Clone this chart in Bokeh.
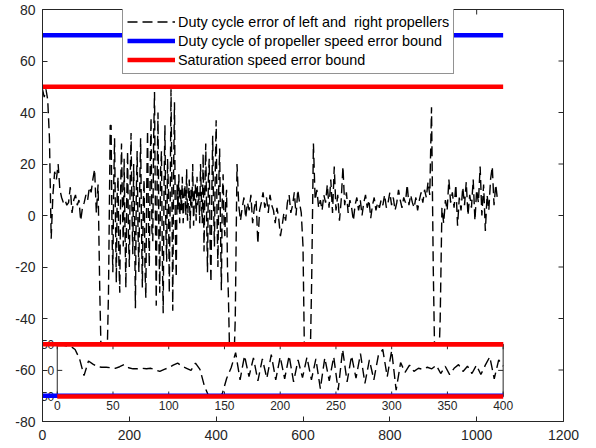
import numpy as np
from bokeh.plotting import figure
from bokeh.models import Range1d, FixedTicker, Legend, LegendItem
from bokeh.core.properties import value
from bokeh.embed import file_html
from bokeh.resources import INLINE

# ---------------- data ----------------
# main error signal, in three sampled pieces: (start, step, values)
seg_a_start, seg_a_step = 0, 4
seg_a_y = [
    49, 46, 49, 45, 30, -9, 8, 17, 14, 20,
    10, 7, 5, 6, 4, 5, 11, 1, 6, 8,
    4, 6, -2, 3, 5, 8, 6, 11, 9, 14,
    18, 1, 12, -30, -62, -62, -62, -62, -30, 35,
]
seg_b_start, seg_b_step = 158, 2
seg_b_y = [
    35, -5, -22, 12, 30, 0, -26, 8, 15, -18, -30, 10, 28, 5, -12, 22, -5, -28, 6, 25, -8,
    -20, 14, 32, 2, -15, 20, -2, -36, 8, 25, -6, -22, 12, 30, -4, -28, 4, 14, -20, -32, 10,
    33, -2, -20, 18, 38, -6, -10, 30, 48, 2, -35, 14, 40, -8, -30, 18, 25, -16, -38, 12, 35,
    -4, -18, 22, 10, -30, 4, 49, 10, -37, 18, 44, -6, -24, 12, 2, 16, -3,
    10, 2, 15, -3, 8, 12, 0, 18, -2, 6, 14, -5, 10, 3, 20, -4, 8, 12, -2, 15, 4, 9, -3, 20, 6, -3, 24,
    -14, 10, 28, 0, -22, 14, 22, -10, -26, 8, 31, 4, -12, 18, 37, 0, -20, 12, 26, -5, -29, 6, 16, -2, -8, 5, 10, -20,
]
seg_c_start, seg_c_step = 428, 4
seg_c_y = [
    -30, -62, -62,
    -62, -40, 20, 4, -2, 3, 7, -1, 5, 2,
    8, -3, 3, 6, -11, 2, 5, 9, 3, 7,
    1, 8, 4, 2, -3, 3, -1, -8, -4, 1,
    -2, 5, 8, 1, 4, 9, 0, 10, 5, 1,
    -12, -62, -62, -62, -62, -25, 28, 6, 10, 3,
    6, 2, 8, 5, 12, 3, 14, 1, 19, 2,
    8, -2, 6, 19, 4, 9, 1, 6, 3, -2,
    4, 7, 2, 6, 0, 5, 8, 3, 6, -1,
    4, 7, 2, 5, 3, 6, 4, 8, 3, 5,
    9, 4, 7, 2, 5, 10, 6, 3, 7, 5,
    12, 4, 8, 5, 3, 7, 2, 6, 9, 5,
    10, 7, 13, 8, 42, -20, -62, -62, -62, -40,
    3, -3, 6, 2, 14, 5, 9, 3, 12, -4,
    7, 2, 11, 4, 13, 0, 8, 3, 14, -2,
    10, 5, 19, 0, 12, -6, 8, 2, 14, 19,
    4, 12, 6,
]

inset_step = 4
inset_y = [
    50, 49, 47, 46, 40, 22, -10, 18, 12, 7,
    6, 6, 5, 4, 7, 11, 5, 3, 3, 4,
    3, 4, 1, -2, 2, 5, 10, 14, 8, 4,
    0, 14, 2, -30, -50, -50, -50, -45, -15, 5,
    34, -18, 28, -12, 24, -20, 22, -15, 30, -18,
    26, -16, 28, -22, 20, -14, 25, -18, 22, -35,
    24, -20, 26, -38, 40, -22, 28, -15, 32, -25,
    20, -18, 28, 40, -12, 38, -38, 15, -4, 10,
    -2, 4, 2, 6, 3, 10, -6, 8, -8, 4,
    11, -2, 8, -6, 10, -8, 10, 26, -16, 20,
    8,
]

bound_x = [0, 1061]
sat_bound = 50
duty_bound = 70

x_ticks = [0, 200, 400, 600, 800, 1000, 1200]
y_ticks = [-80, -60, -40, -20, 0, 20, 40, 60, 80]
inset_x_ticks = [0, 50, 100, 150, 200, 250, 300, 350, 400]
inset_y_ticks = [-50, 0, 50]

legend_labels = [
    "Duty cycle error of left and  right propellers",
    "Duty cycle of propeller speed error bound",
    "Saturation speed error bound",
]

# ---------------- layout / style ----------------
W, H = 596, 448
BL, BR, BT, BB = 42, 33, 9, 27
FW, FH = W - BL - BR, H - BT - BB
FONT = "Liberation Sans"
AX_COL = "#262626"
DASH = "10 5"
LW = 1.4
BOUND_W = 4.5
TL = 5  # tick length, px

xr = (x_ticks[0], x_ticks[-1])
yr = (y_ticks[0], y_ticks[-1])

p = figure(width=W, height=H, x_range=Range1d(*xr), y_range=Range1d(*yr),
           output_backend="svg", toolbar_location=None,
           min_border_left=BL, min_border_right=BR, min_border_top=BT, min_border_bottom=BB)
p.background_fill_color = "white"
p.border_fill_color = "white"
p.outline_line_color = AX_COL
p.outline_line_width = 1
p.xgrid.visible = False
p.ygrid.visible = False


def style_axis(ax, ticks, standoff):
    ax.ticker = FixedTicker(ticks=ticks)
    ax.major_tick_in = TL
    ax.major_tick_out = 0
    ax.minor_tick_line_color = None
    ax.axis_line_color = AX_COL
    ax.major_tick_line_color = AX_COL
    ax.major_label_text_font = FONT
    ax.major_label_text_color = AX_COL
    ax.major_label_standoff = standoff
    ax.major_label_text_font_size = "14px"
    ax.major_label_overrides = {t: str(t) for t in ticks}


style_axis(p.xaxis[0], x_ticks, 8)
style_axis(p.yaxis[0], y_ticks, 7)

# mirrored inward ticks on top and right (box on)
p.ray(x=x_ticks, y=[yr[1]] * len(x_ticks), length=TL, length_units="screen",
      angle=-np.pi / 2, line_color=AX_COL, line_width=1)
p.ray(x=[xr[1]] * len(y_ticks), y=y_ticks, length=TL, length_units="screen",
      angle=np.pi, line_color=AX_COL, line_width=1)

# ---------------- main data ----------------
main_x = np.concatenate([
    seg_a_start + np.arange(len(seg_a_y)) * seg_a_step,
    seg_b_start + np.arange(len(seg_b_y)) * seg_b_step,
    seg_c_start + np.arange(len(seg_c_y)) * seg_c_step,
])
main_y = seg_a_y + seg_b_y + seg_c_y
r_err = p.line(main_x, main_y, line_color="black", line_width=LW, line_dash=DASH)

# ---------------- inset axes (via extra ranges) ----------------
IB_X0, IB_X1, IB_Y0, IB_Y1 = 34, 1061, -70.3, -50   # inset box in main data coords
ix0, ix1 = inset_x_ticks[0], inset_x_ticks[-1]
iy0, iy1 = inset_y_ticks[0], inset_y_ticks[-1]
sx = (IB_X1 - IB_X0) / (ix1 - ix0)
sy = (IB_Y1 - IB_Y0) / (iy1 - iy0)
ixr = Range1d(ix0 - (IB_X0 - xr[0]) / sx, ix1 + (xr[1] - IB_X1) / sx)
iyr = Range1d(iy0 - (IB_Y0 - yr[0]) / sy, iy1 + (yr[1] - IB_Y1) / sy)
p.extra_x_ranges = {"ix": ixr}
p.extra_y_ranges = {"iy": iyr}
IN = dict(x_range_name="ix", y_range_name="iy")

p.quad(left=ix0, right=ix1, bottom=iy0, top=iy1, fill_color="white",
       line_color=None, **IN)
inset_x = np.arange(len(inset_y)) * inset_step
p.line(inset_x, inset_y, line_color="black", line_width=LW, line_dash=DASH, **IN)
p.quad(left=ix0, right=ix1, bottom=iy0, top=iy1, fill_color=None,
       line_color=AX_COL, line_width=1, **IN)

n_x, n_y = len(inset_x_ticks), len(inset_y_ticks)
p.ray(x=inset_x_ticks, y=[iy1] * n_x, length=TL, length_units="screen",
      angle=-np.pi / 2, line_color=AX_COL, **IN)
p.ray(x=inset_x_ticks, y=[iy0] * n_x, length=TL, length_units="screen",
      angle=np.pi / 2, line_color=AX_COL, **IN)
p.ray(x=[ix0] * n_y, y=inset_y_ticks, length=TL, length_units="screen",
      angle=0, line_color=AX_COL, **IN)
p.ray(x=[ix1] * n_y, y=inset_y_ticks, length=TL, length_units="screen",
      angle=np.pi, line_color=AX_COL, **IN)

p.text(x=inset_x_ticks, y=[iy0] * n_x, text=[str(t) for t in inset_x_ticks],
       text_align="center", text_baseline="top", y_offset=4,
       text_font=value(FONT), text_font_size="12px", text_color=AX_COL, **IN)
p.text(x=[ix0] * n_y, y=inset_y_ticks, text=[str(t) for t in inset_y_ticks],
       text_align="right", text_baseline="middle", x_offset=-3,
       text_font=value(FONT), text_font_size="12px", text_color=AX_COL, **IN)

# ---------------- bound lines ----------------
r_duty = p.line(bound_x, [duty_bound] * 2, line_color="#0000FF", line_width=BOUND_W)
r_sat = p.line(bound_x, [sat_bound] * 2, line_color="#FF0000", line_width=BOUND_W)
p.line(bound_x, [-duty_bound] * 2, line_color="#0000FF", line_width=BOUND_W)
p.line(bound_x, [-sat_bound] * 2, line_color="#FF0000", line_width=BOUND_W)
p.line([ix0, ix1], [iy1, iy1], line_color="#FF0000", line_width=BOUND_W, **IN)
p.line([ix0, ix1], [iy0, iy0], line_color="#FF0000", line_width=BOUND_W, **IN)

# ---------------- legend ----------------
PAD, ROW = 4, 19
leg_h = 2 * PAD + ROW * len(legend_labels)
legend = Legend(items=[LegendItem(label=legend_labels[0], renderers=[r_err]),
                       LegendItem(label=legend_labels[1], renderers=[r_duty]),
                       LegendItem(label=legend_labels[2], renderers=[r_sat])],
                location=(80, FH - leg_h))
legend.label_text_font = FONT
legend.label_text_font_size = "14.4px"
legend.label_text_color = "black"
legend.glyph_width = 48
legend.glyph_height = ROW
legend.label_height = ROW
legend.label_standoff = 3
legend.padding = PAD
legend.spacing = 0
legend.margin = 0
legend.border_line_color = AX_COL
legend.border_line_width = 1
legend.background_fill_color = "white"
legend.background_fill_alpha = 1
p.add_layout(legend)

open("out.html", "w").write(file_html(p, INLINE))
